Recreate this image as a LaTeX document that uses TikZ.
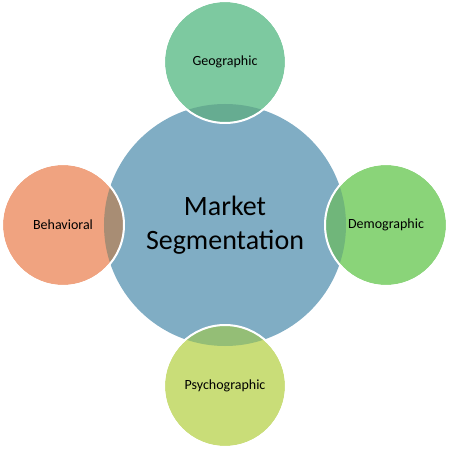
\documentclass[tikz,border=0pt]{standalone}
\usepackage{fontspec}
\setmainfont{Carlito}
\definecolor{segblue}{RGB}{128,173,196}
\definecolor{geogreen}{RGB}{125,201,160}
\definecolor{demogreen}{RGB}{138,212,121}
\definecolor{behsalmon}{RGB}{240,163,128}
\definecolor{psyyellow}{RGB}{201,221,120}
\definecolor{geolens}{RGB}{102,172,145}
\definecolor{demolens}{RGB}{112,182,122}
\definecolor{behlens}{RGB}{168,141,116}
\definecolor{psylens}{RGB}{148,190,118}
\tikzset{
  segment/.style={circle, minimum size=120pt, inner sep=0pt, font=\fontsize{14}{16}\selectfont},
  ring/.style={draw=white, line width=2pt}
}
\begin{document}
\begin{tikzpicture}[x=1pt, y=1pt]
	\useasboundingbox (-225,-225) rectangle (225,225);
	% centre
	\node[circle, fill=segblue, minimum size=242pt, inner sep=0pt, align=center,
	      font=\fontsize{28}{34}\selectfont] (market) at (0,0) {Market\\Segmentation};
	% outer segments
	\node[segment, fill=geogreen] (geo) at (0,163) {};
	\node[segment, fill=demogreen] (demo) at (161,0) {};
	\node[segment, fill=behsalmon] (beh) at (-162,0) {};
	\node[segment, fill=psyyellow] (psy) at (0,-161) {};
	% overlaps
	\begin{scope}
		\clip (market.center) circle (121pt);
		\fill[geolens] (geo.center) circle (60pt);
		\fill[demolens] (demo.center) circle (60pt);
		\fill[behlens] (beh.center) circle (60pt);
		\fill[psylens] (psy.center) circle (60pt);
	\end{scope}
	\foreach \s in {geo,demo,beh,psy}
		\draw[ring] (\s.center) circle (61pt);
	% labels
	\node[segment] at (geo) {Geographic};
	\node[segment] at (demo) {Demographic};
	\node[segment] at (beh) {Behavioral};
	\node[segment] at (psy) {Psychographic};
\end{tikzpicture}
\end{document}
